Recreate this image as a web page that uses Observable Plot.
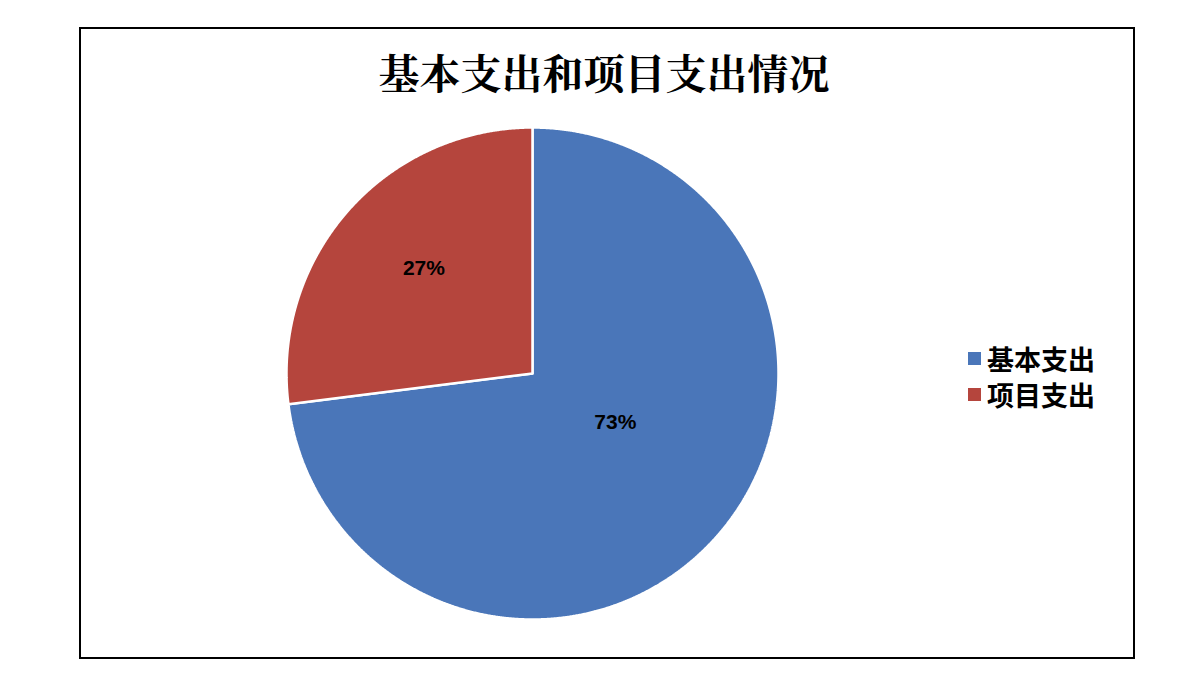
<!DOCTYPE html>
<html><head><meta charset="utf-8">
<script src="https://cdn.jsdelivr.net/npm/d3@7"></script>
<script src="https://cdn.jsdelivr.net/npm/@observablehq/plot@0.6"></script>
<style>
body{margin:0;background:#fff;}
#wrap{position:relative;width:1196px;height:698px;overflow:hidden;font-family:"Noto Sans CJK SC",sans-serif;}
#chart{position:absolute;left:0;top:0;}
#frame{position:absolute;left:79px;top:27px;width:1052px;height:628px;border:2px solid #000;pointer-events:none;}
#title{position:absolute;left:0;width:1208px;top:42px;text-align:center;font-size:41px;font-weight:bold;font-family:"Noto Serif CJK SC","Noto Sans CJK SC",serif;line-height:60px;color:#000;}
#legend{position:absolute;left:968px;top:341px;width:200px;}
#legend *{overflow:visible !important;white-space:nowrap;text-overflow:clip !important;}
#legend svg{margin-right:6px !important;}
</style></head>
<body>
<div id="wrap">
  <div id="chart"></div>
  <div id="frame"></div>
  <div id="title">基本支出和项目支出情况</div>
  <div id="legend"></div>
</div>
<script>
const categories = ["基本支出", "项目支出"];
const shares = [73, 27];
const labels = ["73%", "27%"];
const colors = ["#4a76b9", "#b5453d"];
const titleText = "基本支出和项目支出情况";

const R = 246, cx = 532, cy = 373;

const arcs = d3.pie().sort(null).value(d => d.value)(
  categories.map((c, i) => ({key: c, value: shares[i], label: labels[i]}))
);

const pts = [];
for (const a of arcs) {
  pts.push({key: a.data.key, x: 0, y: 0});
  const n = Math.ceil((a.endAngle - a.startAngle) / 0.004);
  for (let k = 0; k <= n; k++) {
    const t = a.startAngle + (a.endAngle - a.startAngle) * k / n;
    pts.push({key: a.data.key, x: Math.sin(t), y: Math.cos(t)});
  }
  pts.push({key: a.data.key, x: 0, y: 0});
}

const labelData = arcs.map(a => {
  const mid = (a.startAngle + a.endAngle) / 2;
  const frac = (a.endAngle - a.startAngle) / (2 * Math.PI);
  const r = frac < 0.5 ? 0.61 : 0.4;
  return {text: a.data.label, big: frac >= 0.5, x: r * Math.sin(mid), y: r * Math.cos(mid)};
});

const textStyle = {x: "x", y: "y", text: "text", fontSize: 21, fontWeight: "bold", fill: "#000", fontFamily: "Liberation Sans, Arial, sans-serif"};

const chart = Plot.plot({
  width: 1196,
  height: 698,
  margin: 0,
  axis: null,
  style: {background: "transparent"},
  x: {domain: [-1, 1], range: [cx - R, cx + R]},
  y: {domain: [-1, 1], range: [cy + R, cy - R]},
  color: {domain: categories, range: colors},
  marks: [
    Plot.line(pts, {x: "x", y: "y", z: "key", fill: "key", stroke: "#fff", strokeWidth: 2.5, curve: "linear", strokeLinejoin: "miter"}),
    Plot.text(labelData, Plot.filter(d => !d.big, {...textStyle, dx: 4, dy: -6})),
    Plot.text(labelData, Plot.filter(d => d.big, {...textStyle, dx: 9, dy: -16}))
  ]
});
document.getElementById("chart").appendChild(chart);

const legend = Plot.legend({
  color: {domain: categories, range: colors},
  legend: "swatches",
  columns: 1,
  swatchSize: 13,
  style: {fontSize: "27px", fontWeight: "bold", lineHeight: "35px", color: "#000", fontFamily: "Noto Sans CJK SC, sans-serif", background: "transparent"}
});
document.getElementById("legend").appendChild(legend);
</script>
</body></html>
